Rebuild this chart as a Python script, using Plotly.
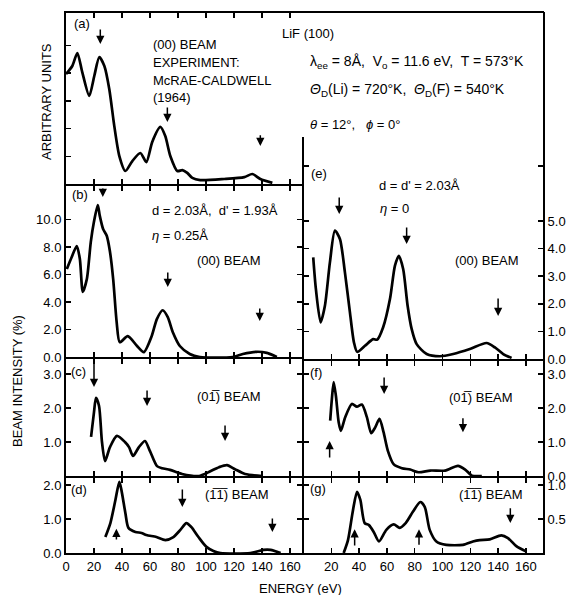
import plotly.graph_objects as go

W, H = 568, 595
FONT = "Liberation Sans, Arial, sans-serif"

# ---------------- data (energy in eV, intensity) ----------------
a_E = [0, 4.5, 8.1, 11.6, 16.6, 20.2, 23.8, 27.4, 30.9, 34.5, 38.1, 42.4, 47.4, 53.1, 57.4,
       61.6, 67.4, 70.9, 74.5, 79.5, 83.1, 86.6, 90.2, 95.9, 113, 127.4, 133.1, 138.8, 147.4]
a_I = [3.97, 4.26, 4.73, 4.04, 3.18, 3.9, 4.58, 4.26, 3.43, 2.09, 1.01, 0.47, 0.83, 1.12, 0.79,
       1.52, 2.06, 1.73, 1.01, 0.47, 0.5, 0.4, 0.22, 0.14, 0.18, 0.25, 0.36, 0.18, 0.04]

b_E = [0.6, 4.1, 7.7, 9.9, 12.0, 14.9, 17.7, 19.9, 22.7, 24.1, 26.5, 29.1, 31.3, 33.7, 36.2,
       38.4, 44.1, 50.6, 55.6, 61.3, 64.9, 69.1, 72.7, 76.3, 81.3, 88.4, 95.6, 119.1, 126.3,
       136.3, 143.4, 150.6]
b_I = [6.4, 7.27, 8.07, 7.13, 4.73, 5.67, 8.36, 9.8, 11.05, 10.28, 9.31, 8.82, 7.73, 5.67, 2.52,
       1.07, 1.52, 0.82, 0.36, 1.55, 2.76, 3.4, 2.9, 1.8, 0.8, 0.22, 0.0, 0.0, 0.22,
       0.38, 0.3, 0.0]

c_E = [17.9, 20.0, 21.4, 23.6, 25.7, 27.9, 31.4, 36.4, 42.1, 45.0, 47.9, 52.1, 56.4, 60.0, 65.0,
       68.6, 74.3, 82.9, 95.0, 102.1, 109.3, 115.0, 120.7, 127.9, 140.0]
c_I = [1.15, 1.88, 2.3, 2.06, 1.0, 0.44, 0.85, 1.18, 1.0, 0.85, 0.59, 0.85, 1.03, 0.73, 0.29,
       0.23, 0.18, 0.06, 0.0, 0.12, 0.26, 0.32, 0.2, 0.06, 0.0]

d_E = [28.1, 31.7, 35.3, 38.1, 39.6, 42.4, 44.6, 49.6, 53.9, 57.4, 64.6, 70.9, 76.7, 81.7, 86.0,
       89.6, 94.6, 100.3, 105.3, 110.3, 131.7, 141.1, 146.1, 153.3]
d_I = [0.47, 0.88, 1.56, 2.09, 1.85, 1.18, 0.74, 0.62, 0.59, 0.53, 0.47, 0.38, 0.47, 0.68, 0.88,
       0.76, 0.47, 0.18, 0.06, 0.0, 0.0, 0.09, 0.09, 0.0]

e_E = [7.0, 8.9, 12.3, 15.4, 19.0, 22.6, 26.2, 29.8, 33.4, 36.3, 38.6, 44.2, 50.1, 53.0, 57.3,
       62.2, 65.8, 68.6, 71.7, 74.9, 77.8, 81.4, 88.6, 98.1, 107.7, 119.7, 131.7, 137.7, 143.7, 149.7]
e_I = [3.68, 2.54, 1.33, 1.93, 3.5, 4.65, 4.35, 3.14, 1.69, 0.6, 0.26, 0.48, 0.72, 0.7, 1.15,
       2.17, 3.38, 3.74, 3.26, 1.93, 1.09, 0.54, 0.18, 0.1, 0.18, 0.36, 0.58, 0.42, 0.18, 0.04]

f_E = [19.2, 20.4, 21.7, 23.3, 25.3, 26.9, 30.0, 34.8, 38.4, 42.0, 45.6, 48.7, 51.6, 54.7, 57.6,
       60.7, 64.8, 70.8, 76.8, 82.8, 91.2, 101.9, 111.1, 116.3, 121.2, 128.3]
f_I = [1.63, 2.26, 2.76, 2.36, 1.58, 1.33, 1.73, 2.12, 2.04, 2.1, 1.73, 1.26, 1.43, 1.68, 1.29,
       0.74, 0.35, 0.23, 0.19, 0.11, 0.16, 0.16, 0.3, 0.19, 0.01, 0.0]

g_E = [28.9, 32.0, 35.6, 38.5, 40.9, 44.0, 47.1, 50.5, 54.3, 59.6, 64.9, 69.2, 73.5, 78.8, 84.0,
       87.2, 90.8, 95.6, 102.7, 114.7, 121.9, 126.8, 134.0, 142.3, 147.1, 153.1, 160.3]
g_I = [0.0, 0.19, 0.63, 0.9, 0.78, 0.44, 0.41, 0.31, 0.17, 0.34, 0.42, 0.37, 0.44, 0.61, 0.75,
       0.68, 0.34, 0.17, 0.12, 0.12, 0.17, 0.19, 0.2, 0.26, 0.22, 0.1, 0.02]

# arrows: (energy, head value, tail value)
a_arrows = [(24.5, 5.05, 5.63), (72.4, 2.24, 2.82), (138.8, 1.37, 1.81)]
b_arrows = [(26.3, 11.64, 12.36), (72.7, 5.09, 6.25), (138.4, 2.62, 3.64)]
c_arrows = [(20.0, 2.62, 3.35), (57.9, 2.06, 2.56), (113.6, 1.03, 1.53)]
d_arrows = [(83.1, 1.35, 1.91), (147.4, 0.62, 1.06), (36.0, 0.71, 0.35)]
e_arrows = [(25.7, 5.25, 5.91), (74.2, 4.17, 4.82), (140.0, 1.56, 2.25)]
f_arrows = [(58.0, 2.41, 2.94), (114.7, 1.29, 1.74), (18.8, 1.03, 0.5)]
g_arrows = [(36.8, 0.35, 0.09), (83.1, 0.35, 0.1), (148.8, 0.44, 0.68)]

x_ticks_left = [0, 20, 40, 60, 80, 100, 120, 140, 160]
x_ticks_right = [20, 40, 60, 80, 100, 120, 140, 160]

# ---------------- layout geometry (pixels) ----------------
LX0, MX, RX1 = 66, 302.5, 543
L_DOM = (LX0, MX - 1)
R_DOM = (MX + 1, RX1)
LEFT_RANGE = [0, (L_DOM[1] - L_DOM[0]) / 1.40]
RIGHT_RANGE = [0, (R_DOM[1] - R_DOM[0]) / 1.39]


def xdom(p):
    return [p[0] / W, p[1] / W]


def ydom(top, bot):
    return [1 - bot / H, 1 - top / H]


panels = [
    # name, E, I, column, top px, bottom px, px per unit, tickvals, ticktext, arrows
    ("a", a_E, a_I, "L", 13, 184, 27.7, [1, 2, 3, 4, 5], None, a_arrows),
    ("b", b_E, b_I, "L", 186, 357, 13.75, [0, 2, 4, 6, 8, 10], None, b_arrows),
    ("c", c_E, c_I, "L", 359, 476, 34, [1, 2, 3], None, c_arrows),
    ("d", d_E, d_I, "L", 478, 553, 34, [0, 1, 2], None, d_arrows),
    ("e", e_E, e_I, "R", 137, 359, 27.6, [0, 1, 2, 3, 4, 5, 7],
     ["0.0", "1.0", "2.0", "3.0", "4.0", "5.0", ""], e_arrows),
    ("f", f_E, f_I, "R", 361, 476, 34, [0, 1, 2, 3], None, f_arrows),
    ("g", g_E, g_I, "R", 478, 553, 68, [0.5, 1.0], None, g_arrows),
]

fig = go.Figure()
annotations = []
layout_axes = {}

for i, (name, E, I, col, top, bot, ppu, tv, tt, arrows) in enumerate(panels, start=1):
    xa = "x" if i == 1 else f"x{i}"
    ya = "y" if i == 1 else f"y{i}"
    fig.add_trace(go.Scatter(x=E, y=I, mode="lines", xaxis=xa, yaxis=ya,
                             line=dict(color="black", width=2.7, shape="spline", smoothing=0.7),
                             showlegend=False, hoverinfo="skip"))
    is_bottom = name in ("d", "g")
    xaxis = dict(
        domain=xdom(L_DOM) if col == "L" else xdom(R_DOM),
        range=LEFT_RANGE if col == "L" else RIGHT_RANGE,
        anchor=ya, showline=True, linecolor="black", linewidth=2,
        mirror=False if name == "e" else "ticks",
        ticks="inside", ticklen=5, tickwidth=1.5, tickcolor="black",
        tickvals=(x_ticks_left if col == "L" else x_ticks_right),
        showticklabels=is_bottom, showgrid=False, zeroline=False, automargin=False,
        tickfont=dict(family=FONT, size=13, color="black"),
    )
    yaxis = dict(
        domain=ydom(top, bot), range=[0, (bot - top) / ppu], anchor=xa,
        side="left" if col == "L" else "right",
        showline=True, linecolor="black", linewidth=2,
        mirror=False if name == "a" else "ticks",
        ticks="inside", ticklen=5, tickwidth=1.5, tickcolor="black",
        tickvals=tv, showticklabels=(name != "a"),
        tickformat=".1f", showgrid=False, zeroline=False, automargin=False,
        tickfont=dict(family=FONT, size=13, color="black"),
    )
    if tt is not None:
        yaxis["ticktext"] = tt
    layout_axes["xaxis" if i == 1 else f"xaxis{i}"] = xaxis
    layout_axes["yaxis" if i == 1 else f"yaxis{i}"] = yaxis
    for (ex, hy, ty) in arrows:
        annotations.append(dict(
            x=ex, y=hy, ax=ex, ay=ty, xref=xa, yref=ya, axref=xa, ayref=ya,
            text="", showarrow=True, arrowhead=2, arrowsize=1.1, arrowwidth=1.5,
            arrowcolor="black", standoff=0, startstandoff=0))


def label(text, x, y, xanchor="left", angle=0, size=13):
    annotations.append(dict(
        text=text, x=x / W, y=1 - y / H, xref="paper", yref="paper",
        xanchor=xanchor, yanchor="middle", showarrow=False, textangle=angle,
        font=dict(family=FONT, size=size, color="black")))


label("(a)", 72, 24)
label("(00) BEAM", 151, 45)
label("EXPERIMENT:", 151, 63)
label("McRAE-CALDWELL", 151, 81)
label("(1964)", 151, 98)
label("LiF (100)", 280, 33)
label("λ<sub>ee</sub> = 8Å,  V<sub>o</sub> = 11.6 eV,  T = 573°K", 308, 62, size=14)
label("<i>Θ</i><sub>D</sub>(Li) = 720°K,  <i>Θ</i><sub>D</sub>(F) = 540°K", 308, 90, size=14)
label("<i>θ</i> = 12°,   <i>ϕ</i> = 0°", 308, 124)
label("(e)", 309, 173)
label("d = d' = 2.03Å", 377, 185)
label("<i>η</i> = 0", 378, 209)
label("(00) BEAM", 453, 260)
label("(b)", 70, 195)
label("d = 2.03Å,  d' = 1.93Å", 150, 210)
label("<i>η</i> = 0.25Å", 150, 236)
label("(00) BEAM", 195, 260)
label("(c)", 69, 371)
label("(01\u0305) BEAM", 195, 396)
label("(d)", 69, 489)
label("(1\u03051\u0305) BEAM", 203, 494)
label("(f)", 308, 372)
label("(01\u0305) BEAM", 447, 397)
label("(g)", 308, 488)
label("(1\u03051\u0305) BEAM", 457, 494)
label("ARBITRARY UNITS", 46, 102, xanchor="center", angle=-90)
label("BEAM INTENSITY (%)", 18, 381, xanchor="center", angle=-90)
label("ENERGY (eV)", 300, 588, xanchor="center")

shapes = [
    # top frame continuing over the right column
    dict(type="line", xref="paper", yref="paper", x0=(MX - 1) / W, x1=(RX1 + 1) / W,
         y0=1 - 12 / H, y1=1 - 12 / H, line=dict(color="black", width=2)),
    # right frame above panel (e)
    dict(type="line", xref="paper", yref="paper", x0=(RX1 + 1) / W, x1=(RX1 + 1) / W,
         y0=1 - 12 / H, y1=1 - 137 / H, line=dict(color="black", width=2)),
]

fig.update_layout(
    width=W, height=H, margin=dict(l=0, r=0, t=0, b=0, autoexpand=False),
    paper_bgcolor="white", plot_bgcolor="rgba(0,0,0,0)",
    annotations=annotations, shapes=shapes, showlegend=False,
    font=dict(family=FONT, size=13, color="black"),
    **layout_axes,
)

fig.write_html("out.html",
               config={"displayModeBar": False, "staticPlot": True},
               post_script="document.body.style.margin='0px';"
                           "document.body.style.overflow='hidden';")
